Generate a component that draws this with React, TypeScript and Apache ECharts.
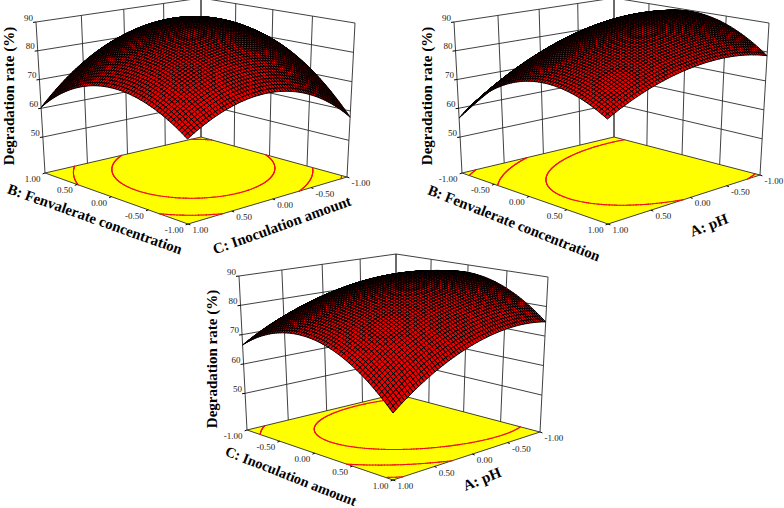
import React, { useEffect, useRef } from "react";
import * as echarts from "echarts";

// Degradation rate (%), at the axis ticks -1, -0.5, 0, 0.5, 1.
// Rows run along the front-left floor edge, columns along the front-right floor edge.
const rateBC = [
  [63.9, 71.0, 72.4, 68.0, 57.9],
  [71.6, 80.2, 83.1, 80.2, 71.6],
  [73.6, 83.7, 88.1, 86.7, 79.5],
  [69.8, 81.4, 87.3, 87.4, 81.7],
  [60.3, 73.4, 80.7, 82.3, 78.2],
];
const rateAB = [
  [70.1, 76.8, 80.4, 81.1, 78.7],
  [75.8, 83.2, 87.5, 88.9, 87.2],
  [75.5, 83.5, 88.6, 90.6, 89.6],
  [69.1, 77.8, 83.5, 86.2, 85.9],
  [56.6, 66.0, 72.4, 75.8, 76.2],
];
const rateAC = [
  [57.6, 66.9, 72.8, 75.5, 74.8],
  [68.8, 77.6, 83.0, 85.2, 84.0],
  [74.1, 82.3, 87.3, 88.9, 87.3],
  [73.3, 81.0, 85.5, 86.6, 84.5],
  [66.5, 73.8, 77.7, 78.4, 75.7],
];
const axisNodes = [-1, -0.5, 0, 0.5, 1];
const zTicks = [50, 60, 70, 80, 90];
const contourLevels = [60, 70, 80];
const leftTicksBC = ["-1.00", "-0.50", "0.00", "0.50", "1.00"];
const rightTicksBC = ["1.00", "0.50", "0.00", "-0.50", "-1.00"];
const leftTicksAB = ["1.00", "0.50", "0.00", "-0.50", "-1.00"];
const rightTicksAB = ["1.00", "0.50", "0.00", "-0.50", "-1.00"];
const zTitle = "Degradation rate (%)";

const Z_MIN = 37.5;
const Z_MAX = 90;
const MESH = 60;
const CONTOUR_MESH = 110;
const FONT = "'Liberation Serif', serif";
const TICK_SIZE = 9;

type Pt = [number, number];
interface Panel {
  table: number[][];
  floor: Pt[]; // front, left, back, right
  top: Pt[];
  leftTicks: string[];
  rightTicks: string[];
  titles: { text: string; x: number; y: number; angle: number; size: number }[];
}

const panels: Panel[] = [
  {
    table: rateBC,
    floor: [[188, 224], [45, 173], [201, 137], [347, 177]],
    top: [[187, 55], [36, 22], [201, -2], [355, 23]],
    leftTicks: leftTicksBC,
    rightTicks: rightTicksBC,
    titles: [
      { text: zTitle, x: 9, y: 96, angle: 90, size: 15 },
      { text: "B: Fenvalerate concentration", x: 95, y: 219, angle: -19.5, size: 14.8 },
      { text: "C: Inoculation amount", x: 282, y: 225, angle: 19.8, size: 15 },
    ],
  },
  {
    table: rateAB,
    floor: [[608, 224], [462, 173], [614, 137], [760, 175]],
    top: [[607, 55], [454, 22], [614, -2], [769, 23]],
    leftTicks: leftTicksAB,
    rightTicks: rightTicksAB,
    titles: [
      { text: zTitle, x: 427, y: 96, angle: 90, size: 15 },
      { text: "B: Fenvalerate concentration", x: 514, y: 223, angle: -21.5, size: 14.8 },
      { text: "A: pH", x: 709, y: 225, angle: 21, size: 15 },
    ],
  },
  {
    table: rateAC,
    floor: [[393, 480], [247, 430], [396, 394], [540, 432]],
    top: [[393, 305], [239, 276], [396, 254], [548, 277]],
    leftTicks: leftTicksAB,
    rightTicks: rightTicksAB,
    titles: [
      { text: zTitle, x: 212, y: 359, angle: 90, size: 15 },
      { text: "C: Inoculation amount", x: 291, y: 476, angle: -21.5, size: 14.4 },
      { text: "A: pH", x: 482, y: 479, angle: 22, size: 15 },
    ],
  },
];

function homography(q: Pt[]) {
  const [p0, p1, p2, p3] = q;
  const dx1 = p1[0] - p2[0], dx2 = p3[0] - p2[0], sx = p0[0] - p1[0] + p2[0] - p3[0];
  const dy1 = p1[1] - p2[1], dy2 = p3[1] - p2[1], sy = p0[1] - p1[1] + p2[1] - p3[1];
  const den = dx1 * dy2 - dx2 * dy1;
  const g = (sx * dy2 - dx2 * sy) / den;
  const h = (dx1 * sy - sx * dy1) / den;
  const a = p1[0] - p0[0] + g * p1[0], b = p3[0] - p0[0] + h * p3[0];
  const d = p1[1] - p0[1] + g * p1[1], e = p3[1] - p0[1] + h * p3[1];
  return (s: number, t: number): Pt => {
    const w = g * s + h * t + 1;
    return [(a * s + b * t + p0[0]) / w, (d * s + e * t + p0[1]) / w];
  };
}

function project(panel: Panel, s: number, t: number, z: number): Pt {
  const f = homography(panel.floor)(s, t);
  const u = homography(panel.top)(s, t);
  const w = (z - Z_MIN) / (Z_MAX - Z_MIN);
  return [f[0] + (u[0] - f[0]) * w, f[1] + (u[1] - f[1]) * w];
}

function basis(v: number): number[] {
  return axisNodes.map((n, i) => {
    let r = 1;
    axisNodes.forEach((m, k) => {
      if (k !== i) r *= (v - m) / (n - m);
    });
    return r;
  });
}

function resample(table: number[][], n: number): number[][] {
  const bases = Array.from({ length: n + 1 }, (_, i) => basis(-1 + (2 * i) / n));
  return bases.map((bs) =>
    bases.map((bt) => {
      let sum = 0;
      bs.forEach((a, i) => bt.forEach((b, j) => (sum += a * b * table[i][j])));
      return sum;
    })
  );
}

function contourSegments(grid: number[][], level: number, n: number): [Pt, Pt][] {
  const out: [Pt, Pt][] = [];
  for (let i = 0; i < n; i++) {
    for (let j = 0; j < n; j++) {
      const c: [number, number, number][] = [
        [i, j, grid[i][j]],
        [i + 1, j, grid[i + 1][j]],
        [i + 1, j + 1, grid[i + 1][j + 1]],
        [i, j + 1, grid[i][j + 1]],
      ];
      const hits: Pt[] = [];
      for (let k = 0; k < 4; k++) {
        const a = c[k], b = c[(k + 1) % 4];
        if (a[2] < level !== b[2] < level) {
          const w = (level - a[2]) / (b[2] - a[2]);
          hits.push([(a[0] + (b[0] - a[0]) * w) / n, (a[1] + (b[1] - a[1]) * w) / n]);
        }
      }
      if (hits.length >= 2) out.push([hits[0], hits[1]]);
      if (hits.length === 4) out.push([hits[2], hits[3]]);
    }
  }
  return out;
}

const meshes = panels.map((p) => resample(p.table, MESH));
const contourGrids = panels.map((p) => resample(p.table, CONTOUR_MESH));

function frameItem(pi: number, api: any) {
  const panel = panels[pi];
  const C = (p: Pt) => api.coord(p);
  const children: any[] = [];
  const lineStyle = { stroke: "#2a2a2a", lineWidth: 0.9, fill: "none" };
  const line = (a: Pt, b: Pt, style: any = lineStyle) => {
    const ca = C(a), cb = C(b);
    children.push({ type: "line", shape: { x1: ca[0], y1: ca[1], x2: cb[0], y2: cb[1] }, style });
  };
  const floorPts = panel.floor.map(C);
  children.push({
    type: "polygon",
    shape: { points: floorPts },
    style: { fill: "#ffff00", stroke: "#2a2a2a", lineWidth: 0.9 },
  });
  // walls
  axisNodes.forEach((n) => {
    const v = (n + 1) / 2;
    line(project(panel, 1, v, Z_MIN), project(panel, 1, v, Z_MAX));
    line(project(panel, v, 1, Z_MIN), project(panel, v, 1, Z_MAX));
  });
  zTicks.forEach((z) => {
    line(project(panel, 1, 0, z), project(panel, 1, 1, z));
    line(project(panel, 1, 1, z), project(panel, 0, 1, z));
    const a = project(panel, 1, 0, z);
    line(a, [a[0] - 3, a[1] + 0.4], { stroke: "#000", lineWidth: 1 });
    const c = C([a[0] - 7.5, a[1] - 4.5]);
    children.push({
      type: "text",
      x: c[0],
      y: c[1],
      style: { text: String(z), fontSize: TICK_SIZE, fontFamily: FONT, fill: "#222", align: "center", verticalAlign: "middle" },
    });
  });
  // contours on the floor
  const fh = homography(panel.floor);
  contourLevels.forEach((level) => {
    contourSegments(contourGrids[pi], level, CONTOUR_MESH).forEach(([a, b]) => {
      line(fh(a[0], a[1]), fh(b[0], b[1]), { stroke: "#f01018", lineWidth: 1.1, lineCap: "round", fill: "none" });
    });
  });
  // floor ticks and labels
  axisNodes.forEach((n, i) => {
    const v = i / 4;
    const l = fh(v, 0);
    const r = fh(0, v);
    line(l, [l[0] - 2.4, l[1] + 0.9], { stroke: "#000", lineWidth: 1 });
    line(r, [r[0] + 2.4, r[1] + 0.9], { stroke: "#000", lineWidth: 1 });
    const cl = C([l[0] - 4.5, l[1] + 6]);
    const cr = C([r[0] + 4.5, r[1] + 6]);
    children.push({
      type: "text", x: cl[0], y: cl[1],
      style: { text: panel.leftTicks[i], fontSize: TICK_SIZE, fontFamily: FONT, fill: "#222", align: "right", verticalAlign: "middle" },
    });
    children.push({
      type: "text", x: cr[0], y: cr[1],
      style: { text: panel.rightTicks[i], fontSize: TICK_SIZE, fontFamily: FONT, fill: "#222", align: "left", verticalAlign: "middle" },
    });
  });
  panel.titles.forEach((t) => {
    const c = C([t.x, t.y]);
    children.push({
      type: "text", x: c[0], y: c[1], rotation: (t.angle * Math.PI) / 180,
      style: { text: t.text, fontSize: t.size, fontWeight: "bold", fontFamily: FONT, fill: "#000", align: "center", verticalAlign: "middle" },
    });
  });
  return { type: "group", children };
}

function surfaceData(): number[][] {
  const out: number[][] = [];
  for (let i = MESH - 1; i >= 0; i--) for (let j = MESH - 1; j >= 0; j--) out.push([i, j]);
  return out;
}

export default function App() {
  const ref = useRef<HTMLDivElement>(null);
  useEffect(() => {
    document.body.style.margin = "0";
    const chart = echarts.init(ref.current!, undefined, { renderer: "svg" });
    chart.setOption({
      animation: false,
      backgroundColor: "#ffffff",
      grid: { left: 0, right: 0, top: 0, bottom: 0 },
      xAxis: { type: "value", min: 0, max: 784, show: false },
      yAxis: { type: "value", min: 0, max: 508, inverse: true, show: false },
      series: [
        {
          type: "custom",
          silent: true,
          clip: false,
          data: panels.map((_, i) => [i]),
          dimensions: ["panel"],
          encode: { x: [], y: [] },
          renderItem: (_: any, api: any) => frameItem(api.value(0), api),
        },
        ...panels.map((panel, pi) => ({
          type: "custom",
          silent: true,
          clip: false,
          progressive: 0,
          data: surfaceData(),
          dimensions: ["i", "j"],
          encode: { x: [], y: [] },
          renderItem: (_: any, api: any) => {
            const i = api.value(0), j = api.value(1);
            const m = meshes[pi];
            const P = (a: number, b: number) => api.coord(project(panel, a / MESH, b / MESH, m[a][b]));
            return {
              type: "polygon",
              shape: { points: [P(i, j), P(i + 1, j), P(i + 1, j + 1), P(i, j + 1)] },
              style: { fill: "#f40000", stroke: "#000000", lineWidth: 1.0 },
            };
          },
        })),
      ],
    });
    return () => chart.dispose();
  }, []);
  return <div ref={ref} style={{ width: 784, height: 508 }} />;
}
